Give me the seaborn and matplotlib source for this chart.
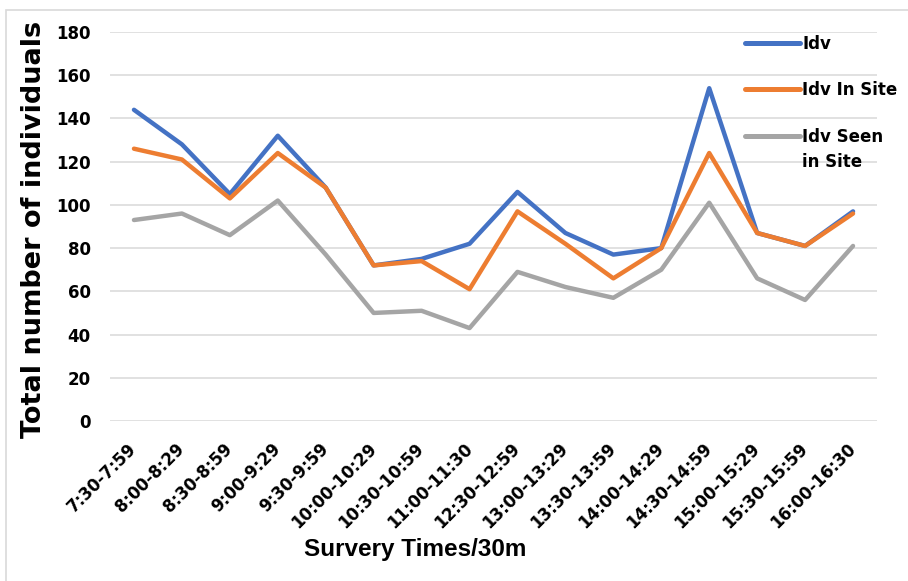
import seaborn as sns
import matplotlib.pyplot as plt
import matplotlib.patches as mpatches
from matplotlib import font_manager
import pandas as pd

# survey slots (30 min each)
times = ['7:30-7:59', '8:00-8:29', '8:30-8:59', '9:00-9:29', '9:30-9:59',
         '10:00-10:29', '10:30-10:59', '11:00-11:30', '12:30-12:59', '13:00-13:29',
         '13:30-13:59', '14:00-14:29', '14:30-14:59', '15:00-15:29', '15:30-15:59',
         '16:00-16:30']
idv = [144, 128, 105, 132, 108, 72, 75, 82, 106, 87, 77, 80, 154, 87, 81, 97]
idv_in_site = [126, 121, 103, 124, 108, 72, 74, 61, 97, 82, 66, 80, 124, 87, 81, 96]
idv_seen = [93, 96, 86, 102, 77, 50, 51, 43, 69, 62, 57, 70, 101, 66, 56, 81]

series = ['Idv', 'Idv In Site', 'Idv Seen in Site']
# last legend entry wraps onto a second line in the original
legend_labels = ['Idv', 'Idv In Site', 'Idv Seen']
legend_wrap = 'in Site'
colors = ['#4472C4', '#ED7D31', '#A5A5A5']

data = pd.DataFrame({
    'time': times * 3,
    'count': idv + idv_in_site + idv_seen,
    'series': [s for s in series for _ in times],
})

sns.set_theme(style='white')
plt.rcParams['font.family'] = ['DejaVu Sans']
plt.rcParams['text.color'] = 'black'
plt.rcParams['axes.labelcolor'] = 'black'
plt.rcParams['xtick.color'] = 'black'
plt.rcParams['ytick.color'] = 'black'

names = {f.name for f in font_manager.fontManager.ttflist}
xlabel_font = 'Liberation Sans Narrow' if 'Liberation Sans Narrow' in names else 'Liberation Sans'

fig = plt.figure(figsize=(9.08, 5.81), dpi=100)
ax = fig.add_axes([110 / 908, 1 - 421 / 581, 767 / 908, 389 / 581])

sns.lineplot(data=data, x='time', y='count', hue='series', palette=colors,
             sort=False, linewidth=3.2, ax=ax, legend=False,
             solid_capstyle='round', solid_joinstyle='round')

ax.set_ylim(0, 180)
ax.set_xlim(-0.5, len(times) - 0.5)
ax.set_yticks(range(0, 181, 20))
ax.grid(axis='y', color='#d9d9d9', linewidth=1.1)
ax.set_axisbelow(True)
for s in ax.spines.values():
    s.set_visible(False)

ax.tick_params(axis='y', length=0, pad=14, labelsize=12)
ax.tick_params(axis='x', length=0, pad=18, labelsize=12)
for lab in ax.get_yticklabels():
    lab.set_fontweight('bold')
for lab in ax.get_xticklabels():
    lab.set_fontweight('bold')
    lab.set_rotation(45)
    lab.set_ha('right')
    lab.set_va('center')
    lab.set_rotation_mode('anchor')

ax.set_xlabel('Survery Times/30m', fontsize=17.5, fontweight='bold', family=xlabel_font)
ax.xaxis.set_label_coords(0.398, -0.30)
ax.set_ylabel('Total number of individuals', fontsize=19.5, fontweight='bold')
ax.yaxis.set_label_coords(-0.082, 0.492)

handles = [plt.Line2D([], [], color=c, linewidth=3.6, solid_capstyle='round') for c in colors]
leg = fig.legend(handles, legend_labels, loc='upper left', bbox_to_anchor=(745 / 908, 1 - 35 / 581),
                 frameon=False, borderpad=0, borderaxespad=0, handlelength=3.3,
                 handletextpad=0.15, labelspacing=1.7,
                 prop={'weight': 'bold', 'size': 12})

# second line of the last legend label, placed under it
fig.canvas.draw()
bb = leg.get_texts()[-1].get_window_extent()
fig.text(bb.x0 / 908, (bb.y0 - 25) / 581, legend_wrap, fontsize=12, fontweight='bold',
         ha='left', va='bottom')

# thin chart border
fig.patches.append(mpatches.Rectangle((6 / 908, -0.1), 1.2, 1.1 - 10 / 581, transform=fig.transFigure,
                                      fill=False, edgecolor='#d9d9d9', linewidth=1.2))

fig.savefig('out.png', dpi=100)
